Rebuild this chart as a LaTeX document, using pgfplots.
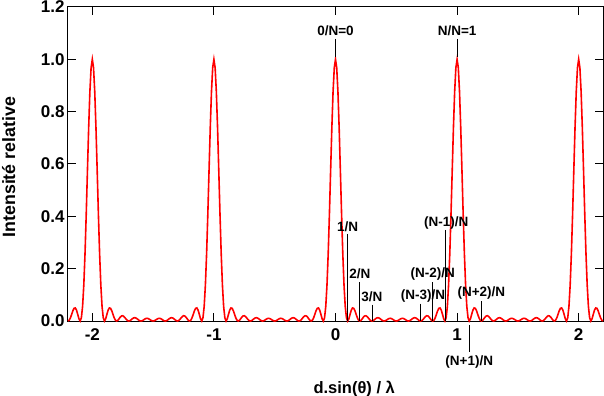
\documentclass[border=0pt]{standalone}
\usepackage{fontspec}
\setmainfont{Liberation Sans}
\usepackage{pgfplots}
\pgfplotsset{compat=1.18}
\newcommand\annfont{\fontsize{13.5bp}{14bp}\selectfont\bfseries}
\newcommand\tickfont{\fontsize{17bp}{18bp}\selectfont\bfseries}
\newcommand\labfont{\fontsize{16.5bp}{18bp}\selectfont\bfseries}
\newcommand\ylabfont{\fontsize{17.8bp}{19bp}\selectfont\bfseries}
\begin{document}
\begin{tikzpicture}
\useasboundingbox (-68bp,-75bp) rectangle (536bp,321bp);
\begin{axis}[
  at={(0,0)}, anchor=south west,
  scale only axis, width=535bp, height=314bp,
  xmin=-2.2, xmax=2.2, ymin=0, ymax=1.2,
  xtick={-2,-1,0,1,2}, ytick={0,0.2,0.4,0.6,0.8,1.0,1.2},
  yticklabel style={/pgf/number format/fixed,/pgf/number format/fixed zerofill,/pgf/number format/precision=1, xshift=0bp},
  xticklabel style={yshift=-4.5bp},
  /pgf/number format/assume math mode=true,
  tick align=inside, major tick length=8bp, minor tick num=0,
  axis line style={line width=1bp}, tick style={line width=1bp, black},
  ticklabel style={font=\tickfont},
  xlabel={d.sin(θ) / λ},
  xlabel style={font=\labfont, at={(axis description cs:0.535,-0.231)}, anchor=base},
  ylabel={Intensité relative},
  ylabel style={font=\ylabfont, at={(axis description cs:-0.111,0.49)}, anchor=center},
  clip=false,
]
\addplot[red, line width=1.6bp] coordinates {
(-2.2,0)(-2.19,.0030)(-2.18,.0120)(-2.17,.0253)(-2.16,.0390)(-2.15,.0485)(-2.14,.0499)(-2.13,.0415)(-2.12,.0255)(-2.11,.0083)
(-2.1,0)(-2.09,.0123)(-2.08,.0559)(-2.07,.1376)(-2.06,.2576)(-2.05,.4086)(-2.04,.5758)(-2.03,.7390)(-2.02,.8763)(-2.01,.9678)
(-2,1)(-1.99,.9678)(-1.98,.8763)(-1.97,.7390)(-1.96,.5758)(-1.95,.4086)(-1.94,.2576)(-1.93,.1376)(-1.92,.0559)(-1.91,.0123)
(-1.9,0)(-1.89,.0083)(-1.88,.0255)(-1.87,.0415)(-1.86,.0499)(-1.85,.0485)(-1.84,.0390)(-1.83,.0253)(-1.82,.0120)(-1.81,.0030)
(-1.8,0)(-1.79,.0025)(-1.78,.0085)(-1.77,.0150)(-1.76,.0193)(-1.75,.0200)(-1.74,.0170)(-1.73,.0116)(-1.72,.0058)(-1.71,.0015)
(-1.7,0)(-1.69,.0014)(-1.68,.0048)(-1.67,.0088)(-1.66,.0118)(-1.65,.0126)(-1.64,.0110)(-1.63,.0078)(-1.62,.0040)(-1.61,.0011)
(-1.6,0)(-1.59,.0010)(-1.58,.0037)(-1.57,.0069)(-1.56,.0094)(-1.55,.0103)(-1.54,.0092)(-1.53,.0066)(-1.52,.0035)(-1.51,.0010)
(-1.5,0)(-1.49,.0010)(-1.48,.0035)(-1.47,.0066)(-1.46,.0092)(-1.45,.0103)(-1.44,.0094)(-1.43,.0069)(-1.42,.0037)(-1.41,.0010)
(-1.4,0)(-1.39,.0011)(-1.38,.0040)(-1.37,.0078)(-1.36,.0110)(-1.35,.0126)(-1.34,.0118)(-1.33,.0088)(-1.32,.0048)(-1.31,.0014)
(-1.3,0)(-1.29,.0015)(-1.28,.0058)(-1.27,.0116)(-1.26,.0170)(-1.25,.0200)(-1.24,.0193)(-1.23,.0150)(-1.22,.0085)(-1.21,.0025)
(-1.2,0)(-1.19,.0030)(-1.18,.0120)(-1.17,.0253)(-1.16,.0390)(-1.15,.0485)(-1.14,.0499)(-1.13,.0415)(-1.12,.0255)(-1.11,.0083)
(-1.1,0)(-1.09,.0123)(-1.08,.0559)(-1.07,.1376)(-1.06,.2576)(-1.05,.4086)(-1.04,.5758)(-1.03,.7390)(-1.02,.8763)(-1.01,.9678)
(-1,1)(-0.99,.9678)(-0.98,.8763)(-0.97,.7390)(-0.96,.5758)(-0.95,.4086)(-0.94,.2576)(-0.93,.1376)(-0.92,.0559)(-0.91,.0123)
(-0.9,0)(-0.89,.0083)(-0.88,.0255)(-0.87,.0415)(-0.86,.0499)(-0.85,.0485)(-0.84,.0390)(-0.83,.0253)(-0.82,.0120)(-0.81,.0030)
(-0.8,0)(-0.79,.0025)(-0.78,.0085)(-0.77,.0150)(-0.76,.0193)(-0.75,.0200)(-0.74,.0170)(-0.73,.0116)(-0.72,.0058)(-0.71,.0015)
(-0.7,0)(-0.69,.0014)(-0.68,.0048)(-0.67,.0088)(-0.66,.0118)(-0.65,.0126)(-0.64,.0110)(-0.63,.0078)(-0.62,.0040)(-0.61,.0011)
(-0.6,0)(-0.59,.0010)(-0.58,.0037)(-0.57,.0069)(-0.56,.0094)(-0.55,.0103)(-0.54,.0092)(-0.53,.0066)(-0.52,.0035)(-0.51,.0010)
(-0.5,0)(-0.49,.0010)(-0.48,.0035)(-0.47,.0066)(-0.46,.0092)(-0.45,.0103)(-0.44,.0094)(-0.43,.0069)(-0.42,.0037)(-0.41,.0010)
(-0.4,0)(-0.39,.0011)(-0.38,.0040)(-0.37,.0078)(-0.36,.0110)(-0.35,.0126)(-0.34,.0118)(-0.33,.0088)(-0.32,.0048)(-0.31,.0014)
(-0.3,0)(-0.29,.0015)(-0.28,.0058)(-0.27,.0116)(-0.26,.0170)(-0.25,.0200)(-0.24,.0193)(-0.23,.0150)(-0.22,.0085)(-0.21,.0025)
(-0.2,0)(-0.19,.0030)(-0.18,.0120)(-0.17,.0253)(-0.16,.0390)(-0.15,.0485)(-0.14,.0499)(-0.13,.0415)(-0.12,.0255)(-0.11,.0083)
(-0.1,0)(-0.09,.0123)(-0.08,.0559)(-0.07,.1376)(-0.06,.2576)(-0.05,.4086)(-0.04,.5758)(-0.03,.7390)(-0.02,.8763)(-0.01,.9678)
(0,1)(0.01,.9678)(0.02,.8763)(0.03,.7390)(0.04,.5758)(0.05,.4086)(0.06,.2576)(0.07,.1376)(0.08,.0559)(0.09,.0123)
(0.1,0)(0.11,.0083)(0.12,.0255)(0.13,.0415)(0.14,.0499)(0.15,.0485)(0.16,.0390)(0.17,.0253)(0.18,.0120)(0.19,.0030)
(0.2,0)(0.21,.0025)(0.22,.0085)(0.23,.0150)(0.24,.0193)(0.25,.0200)(0.26,.0170)(0.27,.0116)(0.28,.0058)(0.29,.0015)
(0.3,0)(0.31,.0014)(0.32,.0048)(0.33,.0088)(0.34,.0118)(0.35,.0126)(0.36,.0110)(0.37,.0078)(0.38,.0040)(0.39,.0011)
(0.4,0)(0.41,.0010)(0.42,.0037)(0.43,.0069)(0.44,.0094)(0.45,.0103)(0.46,.0092)(0.47,.0066)(0.48,.0035)(0.49,.0010)
(0.5,0)(0.51,.0010)(0.52,.0035)(0.53,.0066)(0.54,.0092)(0.55,.0103)(0.56,.0094)(0.57,.0069)(0.58,.0037)(0.59,.0010)
(0.6,0)(0.61,.0011)(0.62,.0040)(0.63,.0078)(0.64,.0110)(0.65,.0126)(0.66,.0118)(0.67,.0088)(0.68,.0048)(0.69,.0014)
(0.7,0)(0.71,.0015)(0.72,.0058)(0.73,.0116)(0.74,.0170)(0.75,.0200)(0.76,.0193)(0.77,.0150)(0.78,.0085)(0.79,.0025)
(0.8,0)(0.81,.0030)(0.82,.0120)(0.83,.0253)(0.84,.0390)(0.85,.0485)(0.86,.0499)(0.87,.0415)(0.88,.0255)(0.89,.0083)
(0.9,0)(0.91,.0123)(0.92,.0559)(0.93,.1376)(0.94,.2576)(0.95,.4086)(0.96,.5758)(0.97,.7390)(0.98,.8763)(0.99,.9678)
(1,1)(1.01,.9678)(1.02,.8763)(1.03,.7390)(1.04,.5758)(1.05,.4086)(1.06,.2576)(1.07,.1376)(1.08,.0559)(1.09,.0123)
(1.1,0)(1.11,.0083)(1.12,.0255)(1.13,.0415)(1.14,.0499)(1.15,.0485)(1.16,.0390)(1.17,.0253)(1.18,.0120)(1.19,.0030)
(1.2,0)(1.21,.0025)(1.22,.0085)(1.23,.0150)(1.24,.0193)(1.25,.0200)(1.26,.0170)(1.27,.0116)(1.28,.0058)(1.29,.0015)
(1.3,0)(1.31,.0014)(1.32,.0048)(1.33,.0088)(1.34,.0118)(1.35,.0126)(1.36,.0110)(1.37,.0078)(1.38,.0040)(1.39,.0011)
(1.4,0)(1.41,.0010)(1.42,.0037)(1.43,.0069)(1.44,.0094)(1.45,.0103)(1.46,.0092)(1.47,.0066)(1.48,.0035)(1.49,.0010)
(1.5,0)(1.51,.0010)(1.52,.0035)(1.53,.0066)(1.54,.0092)(1.55,.0103)(1.56,.0094)(1.57,.0069)(1.58,.0037)(1.59,.0010)
(1.6,0)(1.61,.0011)(1.62,.0040)(1.63,.0078)(1.64,.0110)(1.65,.0126)(1.66,.0118)(1.67,.0088)(1.68,.0048)(1.69,.0014)
(1.7,0)(1.71,.0015)(1.72,.0058)(1.73,.0116)(1.74,.0170)(1.75,.0200)(1.76,.0193)(1.77,.0150)(1.78,.0085)(1.79,.0025)
(1.8,0)(1.81,.0030)(1.82,.0120)(1.83,.0253)(1.84,.0390)(1.85,.0485)(1.86,.0499)(1.87,.0415)(1.88,.0255)(1.89,.0083)
(1.9,0)(1.91,.0123)(1.92,.0559)(1.93,.1376)(1.94,.2576)(1.95,.4086)(1.96,.5758)(1.97,.7390)(1.98,.8763)(1.99,.9678)
(2,1)(2.01,.9678)(2.02,.8763)(2.03,.7390)(2.04,.5758)(2.05,.4086)(2.06,.2576)(2.07,.1376)(2.08,.0559)(2.09,.0123)
(2.1,0)(2.11,.0083)(2.12,.0255)(2.13,.0415)(2.14,.0499)(2.15,.0485)(2.16,.0390)(2.17,.0253)(2.18,.0120)(2.19,.0030)(2.2,0)
};
% annotations
\draw[line width=0.8bp] (axis cs:0,1.078) -- (axis cs:0,1.009);
\node[font=\annfont] at (axis cs:0,1.108) {0/N=0};
\draw[line width=0.8bp] (axis cs:1,1.078) -- (axis cs:1,1.009);
\node[font=\annfont] at (axis cs:1,1.108) {N/N=1};
\draw[line width=0.8bp] (axis cs:0.1,0.333) -- (axis cs:0.1,0);
\node[font=\annfont] at (axis cs:0.1,0.359) {1/N};
\draw[line width=0.8bp] (axis cs:0.2,0.149) -- (axis cs:0.2,0);
\node[font=\annfont] at (axis cs:0.2,0.180) {2/N};
\draw[line width=0.8bp] (axis cs:0.3,0.063) -- (axis cs:0.3,0);
\node[font=\annfont] at (axis cs:0.3,0.092) {3/N};
\draw[line width=0.8bp] (axis cs:0.7,0.066) -- (axis cs:0.7,0);
\node[font=\annfont] at (axis cs:0.72,0.096) {(N-3)/N};
\draw[line width=0.8bp] (axis cs:0.8,0.149) -- (axis cs:0.8,0);
\node[font=\annfont] at (axis cs:0.8,0.180) {(N-2)/N};
\draw[line width=0.8bp] (axis cs:0.9,0.348) -- (axis cs:0.9,0);
\node[font=\annfont] at (axis cs:0.91,0.376) {(N-1)/N};
\draw[line width=0.8bp] (axis cs:1.2,0.076) -- (axis cs:1.2,0);
\node[font=\annfont] at (axis cs:1.2,0.107) {(N+2)/N};
\draw[line width=0.8bp] (axis cs:1.1,-0.015) -- (axis cs:1.1,-0.118);
\node[font=\annfont] at (axis cs:1.1,-0.155) {(N+1)/N};
\end{axis}
\end{tikzpicture}
\end{document}
